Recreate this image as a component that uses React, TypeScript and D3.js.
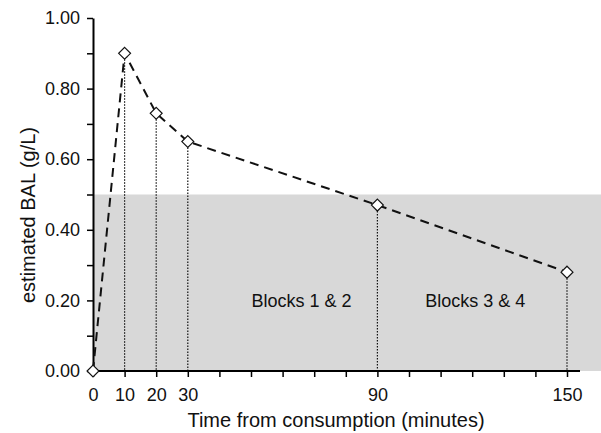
import * as d3 from "d3";
import { useEffect, useRef } from "react";

// measured blood alcohol level over time
const minutes = [0, 10, 20, 30, 90, 150];
const bal = [0, 0.9, 0.73, 0.65, 0.47, 0.28];
const xTickLabels = [0, 10, 20, 30, 90, 150];
const yTickLabels = [0, 0.2, 0.4, 0.6, 0.8, 1.0];
const blockLabels = ["Blocks 1 & 2", "Blocks 3 & 4"];
const blockCenters = [66, 121];
const threshold = 0.5;

export default function App(): JSX.Element {
  const svgRef = useRef<SVGSVGElement>(null);

  useEffect(() => {
    if (!svgRef.current) return;
    const width = 601;
    const height = 433;
    const font = "'Liberation Sans', Arial, sans-serif";

    const svg = d3.select(svgRef.current);
    svg.selectAll("*").remove();
    svg.attr("width", width).attr("height", height);

    const x = d3.scaleLinear().domain([0, 150]).range([93, 567]);
    const y = d3.scaleLinear().domain([0, 1]).range([371, 18]);
    const series = minutes.map((m, i) => ({ m, v: bal[i] }));

    // shaded band below threshold
    svg
      .append("rect")
      .attr("x", x(0))
      .attr("y", y(threshold))
      .attr("width", width - x(0))
      .attr("height", y(0) - y(threshold))
      .attr("fill", "#d8d8d8");

    // dotted drop lines
    svg
      .append("g")
      .selectAll("line")
      .data(series.slice(1))
      .join("line")
      .attr("x1", (d) => x(d.m))
      .attr("x2", (d) => x(d.m))
      .attr("y1", (d) => y(d.v))
      .attr("y2", y(0))
      .attr("stroke", "#111")
      .attr("stroke-width", 1.2)
      .attr("stroke-dasharray", "1.5,1.5");

    // x axis
    const xAxis = svg
      .append("g")
      .attr("transform", `translate(0,${y(0)})`)
      .call(
        d3
          .axisBottom(x)
          .tickValues(d3.range(0, 151, 10))
          .tickSize(6)
          .tickSizeOuter(0)
          .tickFormat((d) => (xTickLabels.includes(Number(d)) ? String(d) : ""))
      );
    xAxis.select(".domain").attr("d", `M${x(0)},0H580`).attr("stroke-width", 2);
    xAxis.selectAll(".tick line").attr("stroke-width", 1.5);
    xAxis
      .selectAll("text")
      .attr("y", 30)
      .attr("dy", null)
      .style("font-family", font)
      .style("font-size", "18px")
      .style("fill", "#111");

    // y axis
    const yAxis = svg
      .append("g")
      .attr("transform", `translate(${x(0)},0)`)
      .call(
        d3
          .axisLeft(y)
          .tickValues(d3.range(0, 1.01, 0.1))
          .tickSize(6)
          .tickSizeOuter(0)
          .tickFormat((d) =>
            yTickLabels.some((t) => Math.abs(t - Number(d)) < 1e-6) ? d3.format(".2f")(Number(d)) : ""
          )
      );
    yAxis.select(".domain").attr("stroke-width", 2);
    yAxis.selectAll(".tick line").attr("stroke-width", 1.5);
    yAxis
      .selectAll("text")
      .attr("x", -13)
      .style("font-family", font)
      .style("font-size", "18px")
      .style("fill", "#111");

    // dashed connecting line
    const line = d3
      .line<{ m: number; v: number }>()
      .x((d) => x(d.m))
      .y((d) => y(d.v));
    svg
      .append("path")
      .datum(series)
      .attr("d", line)
      .attr("fill", "none")
      .attr("stroke", "#111")
      .attr("stroke-width", 2)
      .attr("stroke-dasharray", "9,6");

    // diamond markers
    const diamond = d3.symbol().type(d3.symbolDiamond2).size(90);
    svg
      .append("g")
      .selectAll("path")
      .data(series)
      .join("path")
      .attr("d", diamond)
      .attr("transform", (d) => `translate(${x(d.m)},${y(d.v)})`)
      .attr("fill", "white")
      .attr("stroke", "#111")
      .attr("stroke-width", 1.2);

    // block labels
    svg
      .append("g")
      .selectAll("text")
      .data(blockLabels)
      .join("text")
      .attr("x", (_, i) => x(blockCenters[i]))
      .attr("y", 307)
      .attr("text-anchor", "middle")
      .style("font-family", font)
      .style("font-size", "18px")
      .style("fill", "#111")
      .text((d) => d);

    // axis titles
    svg
      .append("text")
      .attr("x", 336)
      .attr("y", 427)
      .attr("text-anchor", "middle")
      .style("font-family", font)
      .style("font-size", "20px")
      .style("fill", "#111")
      .text("Time from consumption (minutes)");

    svg
      .append("text")
      .attr("transform", `translate(35,215) rotate(-90)`)
      .attr("text-anchor", "middle")
      .style("font-family", font)
      .style("font-size", "20px")
      .style("fill", "#111")
      .text("estimated BAL (g/L)");
  }, []);

  return <svg ref={svgRef} style={{ position: "absolute", left: 0, top: 0, background: "white" }} />;
}
